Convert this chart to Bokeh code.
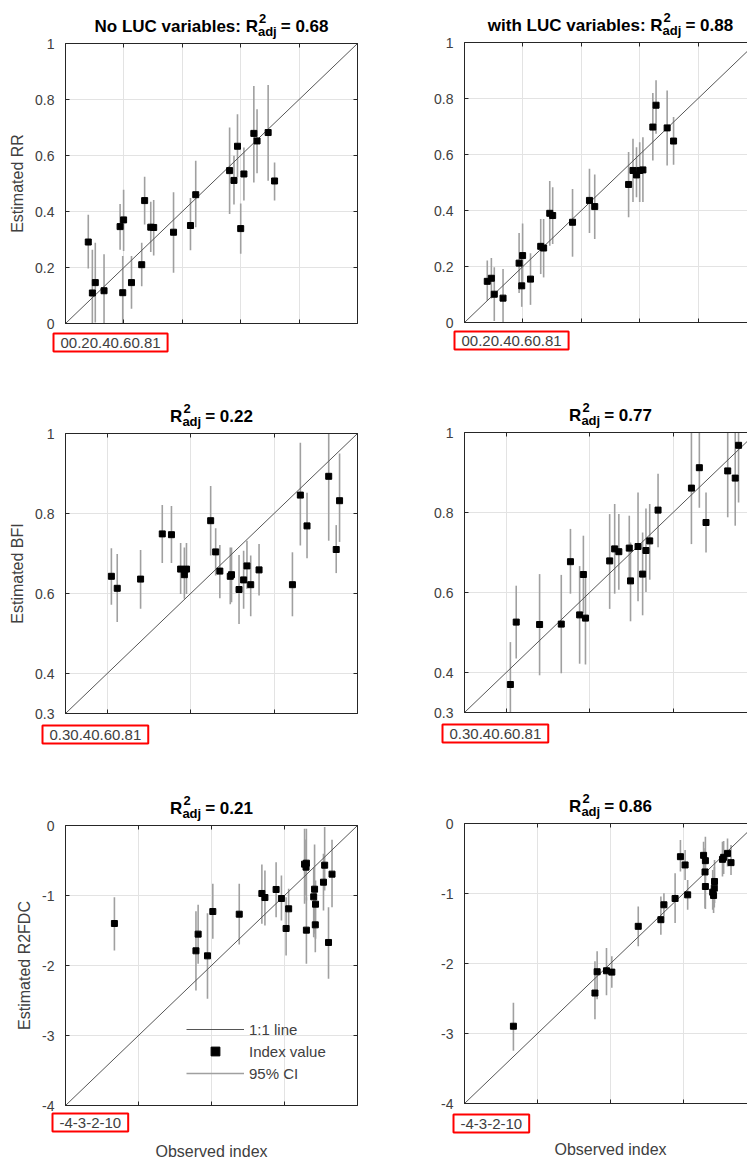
import math
from bokeh.plotting import figure
from bokeh.models import (ColumnDataSource, FixedTicker, Grid, Label, Legend, LegendItem,
                          LinearAxis, Range1d)
from bokeh.layouts import column, row
from bokeh.embed import file_html
from bokeh.resources import INLINE

# ---------------------------------------------------------------- data
# Row 1: runoff ratio (RR)
rr_ticks = [0, 0.2, 0.4, 0.6, 0.8, 1]
rr_tick_labels = ["0", "0.2", "0.4", "0.6", "0.8", "1"]
obs_rr = [0.078, 0.092, 0.102, 0.132, 0.187, 0.196, 0.199, 0.226, 0.261, 0.271, 0.292, 0.302,
          0.370, 0.428, 0.446, 0.562, 0.577, 0.589, 0.600, 0.611, 0.645, 0.656, 0.694, 0.716]
est_rr_noluc = [0.291, 0.109, 0.146, 0.117, 0.346, 0.110, 0.370, 0.146, 0.210, 0.439, 0.344, 0.343,
                0.326, 0.350, 0.460, 0.546, 0.511, 0.633, 0.339, 0.534, 0.679, 0.652, 0.682, 0.509]
hi_rr_noluc = [0.388, 0.263, 0.288, 0.247, 0.427, 0.241, 0.478, 0.241, 0.288, 0.524, 0.435, 0.441,
               0.469, 0.448, 0.581, 0.700, 0.599, 0.747, 0.429, 0.629, 0.848, 0.765, 0.852, 0.575]
lo_rr_noluc = [0.196, -0.045, 0.004, -0.013, 0.263, -0.021, 0.259, 0.053, 0.133, 0.354, 0.255, 0.243,
               0.181, 0.262, 0.344, 0.391, 0.425, 0.522, 0.249, 0.439, 0.504, 0.537, 0.510, 0.439]
est_rr_luc = [0.147, 0.158, 0.101, 0.087, 0.212, 0.131, 0.239, 0.155, 0.272, 0.266, 0.390, 0.382,
              0.358, 0.436, 0.414, 0.493, 0.543, 0.527, 0.543, 0.545, 0.698, 0.776, 0.695, 0.648]
hi_rr_luc = [0.221, 0.230, 0.197, 0.191, 0.320, 0.233, 0.354, 0.247, 0.370, 0.370, 0.505, 0.483,
             0.477, 0.549, 0.529, 0.609, 0.656, 0.626, 0.644, 0.662, 0.820, 0.865, 0.829, 0.734]
lo_rr_luc = [0.078, 0.086, 0.005, -0.017, 0.105, 0.056, 0.125, 0.063, 0.173, 0.161, 0.274, 0.280,
             0.235, 0.320, 0.298, 0.376, 0.430, 0.447, 0.430, 0.430, 0.579, 0.674, 0.561, 0.563]

# Row 2: baseflow index (BFI)
bfi_ticks = [0.3, 0.4, 0.6, 0.8, 1]
bfi_tick_labels = ["0.3", "0.4", "0.6", "0.8", "1"]
obs_bfi = [0.410, 0.424, 0.480, 0.532, 0.554, 0.576, 0.585, 0.590, 0.648, 0.660, 0.670, 0.695,
           0.698, 0.716, 0.727, 0.735, 0.744, 0.764, 0.844, 0.863, 0.879, 0.931, 0.949, 0.957]
est_bfi_noluc = [0.643, 0.613, 0.636, 0.749, 0.747, 0.661, 0.647, 0.661, 0.782, 0.704, 0.656, 0.643,
                 0.647, 0.610, 0.634, 0.669, 0.622, 0.659, 0.622, 0.846, 0.769, 0.893, 0.710, 0.832]
hi_bfi_noluc = [0.713, 0.699, 0.709, 0.821, 0.819, 0.726, 0.715, 0.726, 0.869, 0.763, 0.721, 0.715,
                0.715, 0.696, 0.707, 0.732, 0.695, 0.724, 0.703, 0.977, 0.852, 1.054, 0.771, 0.950]
lo_bfi_noluc = [0.572, 0.529, 0.562, 0.676, 0.676, 0.599, 0.587, 0.599, 0.695, 0.645, 0.588, 0.573,
                0.578, 0.524, 0.562, 0.612, 0.543, 0.595, 0.543, 0.720, 0.688, 0.732, 0.651, 0.729]
est_bfi_luc = [0.370, 0.526, 0.520, 0.521, 0.677, 0.544, 0.645, 0.536, 0.679, 0.709, 0.702, 0.711,
               0.629, 0.715, 0.646, 0.705, 0.729, 0.806, 0.861, 0.912, 0.775, 0.904, 0.886, 0.968]
hi_bfi_luc = [0.476, 0.617, 0.646, 0.644, 0.759, 0.666, 0.742, 0.652, 0.796, 0.821, 0.796, 0.792,
              0.725, 0.850, 0.750, 0.810, 0.821, 0.897, 1.000, 1.012, 0.850, 1.020, 1.005, 1.111]
lo_bfi_luc = [0.264, 0.435, 0.393, 0.398, 0.597, 0.422, 0.548, 0.420, 0.559, 0.597, 0.607, 0.630,
              0.528, 0.578, 0.543, 0.601, 0.632, 0.713, 0.721, 0.812, 0.700, 0.788, 0.767, 0.825]

# Row 3: R2FDC
r2_ticks = [-4, -3, -2, -1, 0]
r2_tick_labels = ["-4", "-3", "-2", "-1", "0"]
obs_r2 = [-3.330, -2.213, -2.183, -2.055, -1.982, -1.620, -1.310, -1.268, -1.115, -1.042, -0.978, -0.943,
          -0.725, -0.700, -0.705, -0.700, -0.600, -0.588, -0.575, -0.578, -0.466, -0.450, -0.397, -0.349]
est_r2_noluc = [-1.400, -1.790, -1.552, -1.862, -1.229, -1.267, -0.971, -1.029, -0.914, -1.043, -1.471, -1.190,
                -0.552, -0.538, -0.595, -1.495, -1.019, -0.910, -1.124, -1.419, -0.810, -0.567, -1.671, -0.695]
hi_r2_noluc = [-1.024, -1.224, -1.133, -1.252, -0.833, -0.833, -0.557, -0.643, -0.524, -0.714, -1.024, -0.905,
               -0.048, -0.048, -0.200, -1.024, -0.595, -0.271, -0.786, -1.048, -0.405, -0.020, -1.167, -0.205]
lo_r2_noluc = [-1.786, -2.357, -1.976, -2.476, -1.619, -1.700, -1.405, -1.429, -1.310, -1.357, -1.857, -1.490,
               -1.119, -1.071, -1.000, -1.976, -1.595, -1.548, -1.619, -1.810, -1.214, -0.929, -2.190, -1.167]
est_r2_luc = [-2.896, -2.422, -2.118, -2.104, -2.123, -1.469, -1.374, -1.161, -1.071, -0.474, -0.592, -1.019,
              -0.455, -0.531, -0.692, -0.900, -0.981, -1.028, -0.829, -0.924, -0.512, -0.483, -0.427, -0.559]
hi_r2_luc = [-2.559, -1.967, -1.825, -1.777, -1.896, -1.185, -1.043, -0.995, -0.711, -0.237, -0.379, -0.806,
             -0.261, -0.190, -0.355, -0.569, -0.664, -0.758, -0.521, -0.620, -0.261, -0.250, -0.213, -0.308]
lo_r2_luc = [-3.246, -2.796, -2.512, -2.455, -2.346, -1.754, -1.588, -1.327, -1.422, -0.687, -0.806, -1.232,
             -0.664, -0.806, -1.209, -1.223, -1.232, -1.280, -1.137, -1.200, -0.758, -0.720, -0.616, -0.735]

title_prefixes = ["No LUC variables: R", "with LUC variables: R", "R", "R", "R", "R"]
r2_adj = ["0.68", "0.88", "0.22", "0.77", "0.21", "0.86"]
y_titles = ["Estimated RR", "Estimated BFI", "Estimated R2FDC"]
x_title = "Observed index"
legend_labels = ["1:1 line", "Index value", "95% CI"]

# ---------------------------------------------------------------- style
FONT = "Liberation Sans"
FRAME_C = "#262626"
TEXT_C = "#404040"
GRID_C = "#e3e3e3"
ERR_C = "#a0a0a0"
LINE_C = "#555555"

BOLD_W = {" ": 278, "=": 584, ".": 278, ":": 333, "C": 722, "L": 611, "N": 722, "R": 722,
          "U": 722, "a": 556, "b": 611, "d": 611, "e": 556, "h": 611, "i": 278, "j": 278,
          "l": 278, "o": 611, "r": 389, "s": 556, "t": 333, "v": 556, "w": 778}


def bold_width(s, size):
    return sum(BOLD_W.get(ch, 556) for ch in s) * size / 1000.0


FRAME_W, FRAME_H = 292, 280          # axes box size in px
LEFT_W, LEFT_BL = 380, 65            # left column canvas width / box left edge
RIGHT_W, RIGHT_BL = 367, 84          # right column (box runs past the window edge)
HAS_CROSS = "cross_bounds" in Grid.properties()


def style_axis(ax, standoff=11, show=True):
    ax.axis_line_color = FRAME_C
    ax.axis_line_width = 1
    ax.major_tick_in = 4
    ax.major_tick_out = 0
    ax.major_tick_line_color = FRAME_C
    ax.minor_tick_line_color = None
    ax.major_label_text_font = FONT
    ax.major_label_text_font_size = "14px" if show else "0px"
    ax.major_label_text_color = TEXT_C
    ax.major_label_standoff = standoff


def make_panel(obs, est, lo, hi, ticks, tick_labels, prefix, r2, side, b_top, b_bottom,
               box_dx, box_dy, ylabel=None, xlabel=None, legend=False):
    vmin, vmax = ticks[0], ticks[-1]
    width, bl = (LEFT_W, LEFT_BL) if side == "left" else (RIGHT_W, RIGHT_BL)
    height = b_top + FRAME_H + b_bottom
    sx = (vmax - vmin) / FRAME_W
    sy = (vmax - vmin) / FRAME_H
    p = figure(width=width, height=height,
               x_range=Range1d(vmin - bl * sx, vmin + (width - bl) * sx),
               y_range=Range1d(vmin - b_bottom * sy, vmax + b_top * sy),
               output_backend="svg", toolbar_location=None, title=None,
               min_border_left=0, min_border_right=0, min_border_top=0, min_border_bottom=0,
               outline_line_color=None, background_fill_color="white", border_fill_color="white")
    ticker = FixedTicker(ticks=ticks)
    labels = {float(t): s for t, s in zip(ticks, tick_labels)}
    blanks = {float(t): "" for t in ticks}

    # grid restricted to the axes box
    for g in (p.xgrid[0], p.ygrid[0]):
        g.ticker = ticker
        g.bounds = (vmin, vmax)
        g.grid_line_color = GRID_C
        g.grid_line_width = 1
        if HAS_CROSS:
            g.cross_bounds = (vmin, vmax)
        else:
            g.visible = False
    if not HAS_CROSS:
        inner = ticks[1:-1]
        p.segment(x0=inner, y0=[vmin] * len(inner), x1=inner, y1=[vmax] * len(inner),
                  line_color=GRID_C, line_width=1)
        p.segment(x0=[vmin] * len(inner), y0=inner, x1=[vmax] * len(inner), y1=inner,
                  line_color=GRID_C, line_width=1)

    # axes drawn as the box edges (MATLAB style, ticks pointing inwards)
    xax, yax = p.xaxis[0], p.yaxis[0]
    for ax in (xax, yax):
        ax.ticker = ticker
        ax.fixed_location = vmin
        ax.bounds = (vmin, vmax)
    style_axis(xax, 0, show=False)
    style_axis(yax)
    xax.major_label_overrides = blanks
    yax.major_label_overrides = labels
    if ylabel:
        yax.axis_label = ylabel
        yax.axis_label_standoff = 6
        yax.axis_label_text_font = FONT
        yax.axis_label_text_font_size = "16px"
        yax.axis_label_text_font_style = "normal"
        yax.axis_label_text_color = TEXT_C

    top = LinearAxis(ticker=ticker, fixed_location=vmax, bounds=(vmin, vmax), major_label_overrides=blanks)
    style_axis(top, 0, show=False)
    p.add_layout(top, "above")
    if side == "left":
        right = LinearAxis(ticker=ticker, fixed_location=vmax, bounds=(vmin, vmax),
                           major_label_overrides=blanks)
        style_axis(right, 0, show=False)
        p.add_layout(right, "right")

    # marks (CI clipped to the axes box, as in the original)
    lo_c = [max(v, vmin) for v in lo]
    hi_c = [min(v, vmax) for v in hi]
    src = ColumnDataSource(dict(x=obs, y=est, lo=lo_c, hi=hi_c))
    r_err = p.segment(x0="x", y0="lo", x1="x", y1="hi", source=src, line_color=ERR_C, line_width=1.6)
    r_line = p.line(x=[vmin, vmax], y=[vmin, vmax], line_color=LINE_C, line_width=1)
    r_pts = p.scatter(x="x", y="y", source=src, marker="square", size=6,
                      fill_color="black", line_color="black", line_width=1)

    # title: prefix, superscript 2, subscript adj, "= value"
    cx = (vmin + vmax) / 2.0
    main_fs, small_fs = 17, 13
    w_pre = bold_width(prefix, main_fs)
    w_small = bold_width("adj", small_fs)
    gap = 4
    suffix = "= " + r2
    w_suf = bold_width(suffix, main_fs)
    x0 = -(w_pre + w_small + gap + w_suf) / 2.0
    common = dict(x=cx, y=vmax, text_font=FONT, text_font_style="bold", text_color="black",
                  text_align="left", text_baseline="alphabetic")
    p.add_layout(Label(text=prefix, x_offset=x0, y_offset=17, text_font_size=f"{main_fs}px", **common))
    p.add_layout(Label(text="2", x_offset=x0 + w_pre + 1, y_offset=25, text_font_size=f"{small_fs}px", **common))
    p.add_layout(Label(text="adj", x_offset=x0 + w_pre, y_offset=12, text_font_size=f"{small_fs}px", **common))
    p.add_layout(Label(text=suffix, x_offset=x0 + w_pre + w_small + gap, y_offset=17,
                       text_font_size=f"{main_fs}px", **common))

    # x tick labels, packed together inside a red frame
    p.add_layout(Label(x=vmin, y=vmin, x_offset=box_dx, y_offset=box_dy, text="".join(tick_labels),
                       text_align="left", text_baseline="top", text_font=FONT, text_font_size="15px",
                       text_color=TEXT_C, border_line_color="red", border_line_width=2,
                       padding=dict(x=7, y=4)))

    if xlabel:
        p.add_layout(Label(x=cx, y=vmin, y_offset=-46, text=xlabel, text_align="center",
                           text_baseline="middle", text_font=FONT, text_font_size="16px", text_color=TEXT_C))
    if legend:
        leg = Legend(items=[LegendItem(label=legend_labels[0], renderers=[r_line]),
                            LegendItem(label=legend_labels[1], renderers=[r_pts]),
                            LegendItem(label=legend_labels[2], renderers=[r_err])],
                     location=(bl + 121, b_bottom + 21), orientation="vertical", border_line_color=None,
                     background_fill_alpha=0, padding=0, margin=0, spacing=0,
                     glyph_width=58, glyph_height=22, label_height=22, label_standoff=5,
                     label_text_font=FONT, label_text_font_size="15px", label_text_color=TEXT_C)
        p.add_layout(leg)
    return p


p1 = make_panel(obs_rr, est_rr_noluc, lo_rr_noluc, hi_rr_noluc, rr_ticks, rr_tick_labels,
                title_prefixes[0], r2_adj[0], "left", 43, 65, -12, -10, ylabel=y_titles[0])
p2 = make_panel(obs_rr, est_rr_luc, lo_rr_luc, hi_rr_luc, rr_ticks, rr_tick_labels,
                title_prefixes[1], r2_adj[1], "right", 42, 66, -10, -9)
p3 = make_panel(obs_bfi, est_bfi_noluc, lo_bfi_noluc, hi_bfi_noluc, bfi_ticks, bfi_tick_labels,
                title_prefixes[2], r2_adj[2], "left", 45, 65, -23, -12, ylabel=y_titles[1])
p4 = make_panel(obs_bfi, est_bfi_luc, lo_bfi_luc, hi_bfi_luc, bfi_ticks, bfi_tick_labels,
                title_prefixes[3], r2_adj[3], "right", 44, 66, -22, -12)
p5 = make_panel(obs_r2, est_r2_noluc, lo_r2_noluc, hi_r2_noluc, r2_ticks, r2_tick_labels,
                title_prefixes[4], r2_adj[4], "left", 47, 54, -13, -8, ylabel=y_titles[2],
                xlabel=x_title, legend=True)
p6 = make_panel(obs_r2, est_r2_luc, lo_r2_luc, hi_r2_luc, r2_ticks, r2_tick_labels,
                title_prefixes[5], r2_adj[5], "right", 45, 56, -11, -11, xlabel=x_title)

layout = column(row(p1, p2), row(p3, p4), row(p5, p6))
open("out.html", "w").write(file_html(layout, INLINE, title="Observed vs estimated index"))
